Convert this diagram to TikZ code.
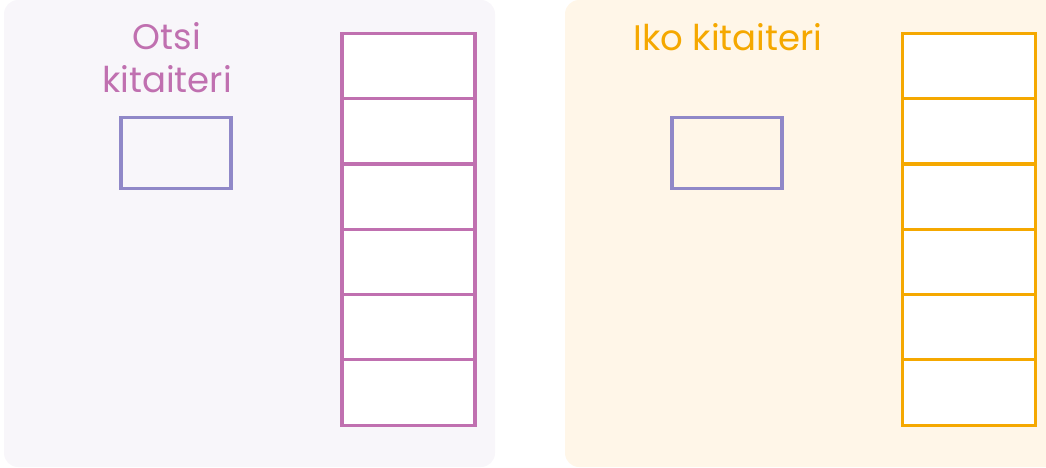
\documentclass[tikz,border=0pt]{standalone}
\usepackage{fontspec}
\setmainfont{Poppins}
\usetikzlibrary{positioning}
\definecolor{PanelLilac}{RGB}{248,246,250}
\definecolor{PanelCream}{RGB}{255,246,232}
\definecolor{Orchid}{RGB}{192,112,176}
\definecolor{Periwinkle}{RGB}{144,136,200}
\definecolor{Amber}{RGB}{245,168,0}

\tikzset{
	cell/.style={draw, line width=3.2pt, fill=white, minimum width=133pt, minimum height=65.3pt, inner sep=0pt, outer sep=0pt},
	pocket/.style={draw=Periwinkle, line width=3.2pt, minimum width=110pt, minimum height=71pt, inner sep=0pt},
	title/.style={font=\fontsize{35.5}{43}\selectfont, align=center, inner sep=0pt}
}

\begin{document}
\begin{tikzpicture}[x=1pt, y=-1pt]
	\useasboundingbox (0,0) rectangle (1046,468);
	
	% panels
	\fill[PanelLilac, rounded corners=14pt] (4,0) rectangle (495,467);
	\fill[PanelCream, rounded corners=14pt] (565,0) rectangle (1070,467);
	
	% left side
	\node[title, text=Orchid] (lefttitle) at (167,58) {Otsi\\kitaiteri};
	\node[pocket] (leftpocket) at (176,153) {};
	\node[cell, draw=Orchid] (l1) at (408.5,66) {};
	\foreach \i [remember=\i as \j (initially 1)] in {2,...,6}
		\node[cell, draw=Orchid, below=0pt of l\j] (l\i) {};
	
	% right side
	\node[title, text=Amber] (righttitle) at (728,37) {Iko kitaiteri};
	\node[pocket] (rightpocket) at (727,153) {};
	\node[cell, draw=Amber] (r1) at (969,66) {};
	\foreach \i [remember=\i as \j (initially 1)] in {2,...,6}
		\node[cell, draw=Amber, below=0pt of r\j] (r\i) {};
\end{tikzpicture}
\end{document}
